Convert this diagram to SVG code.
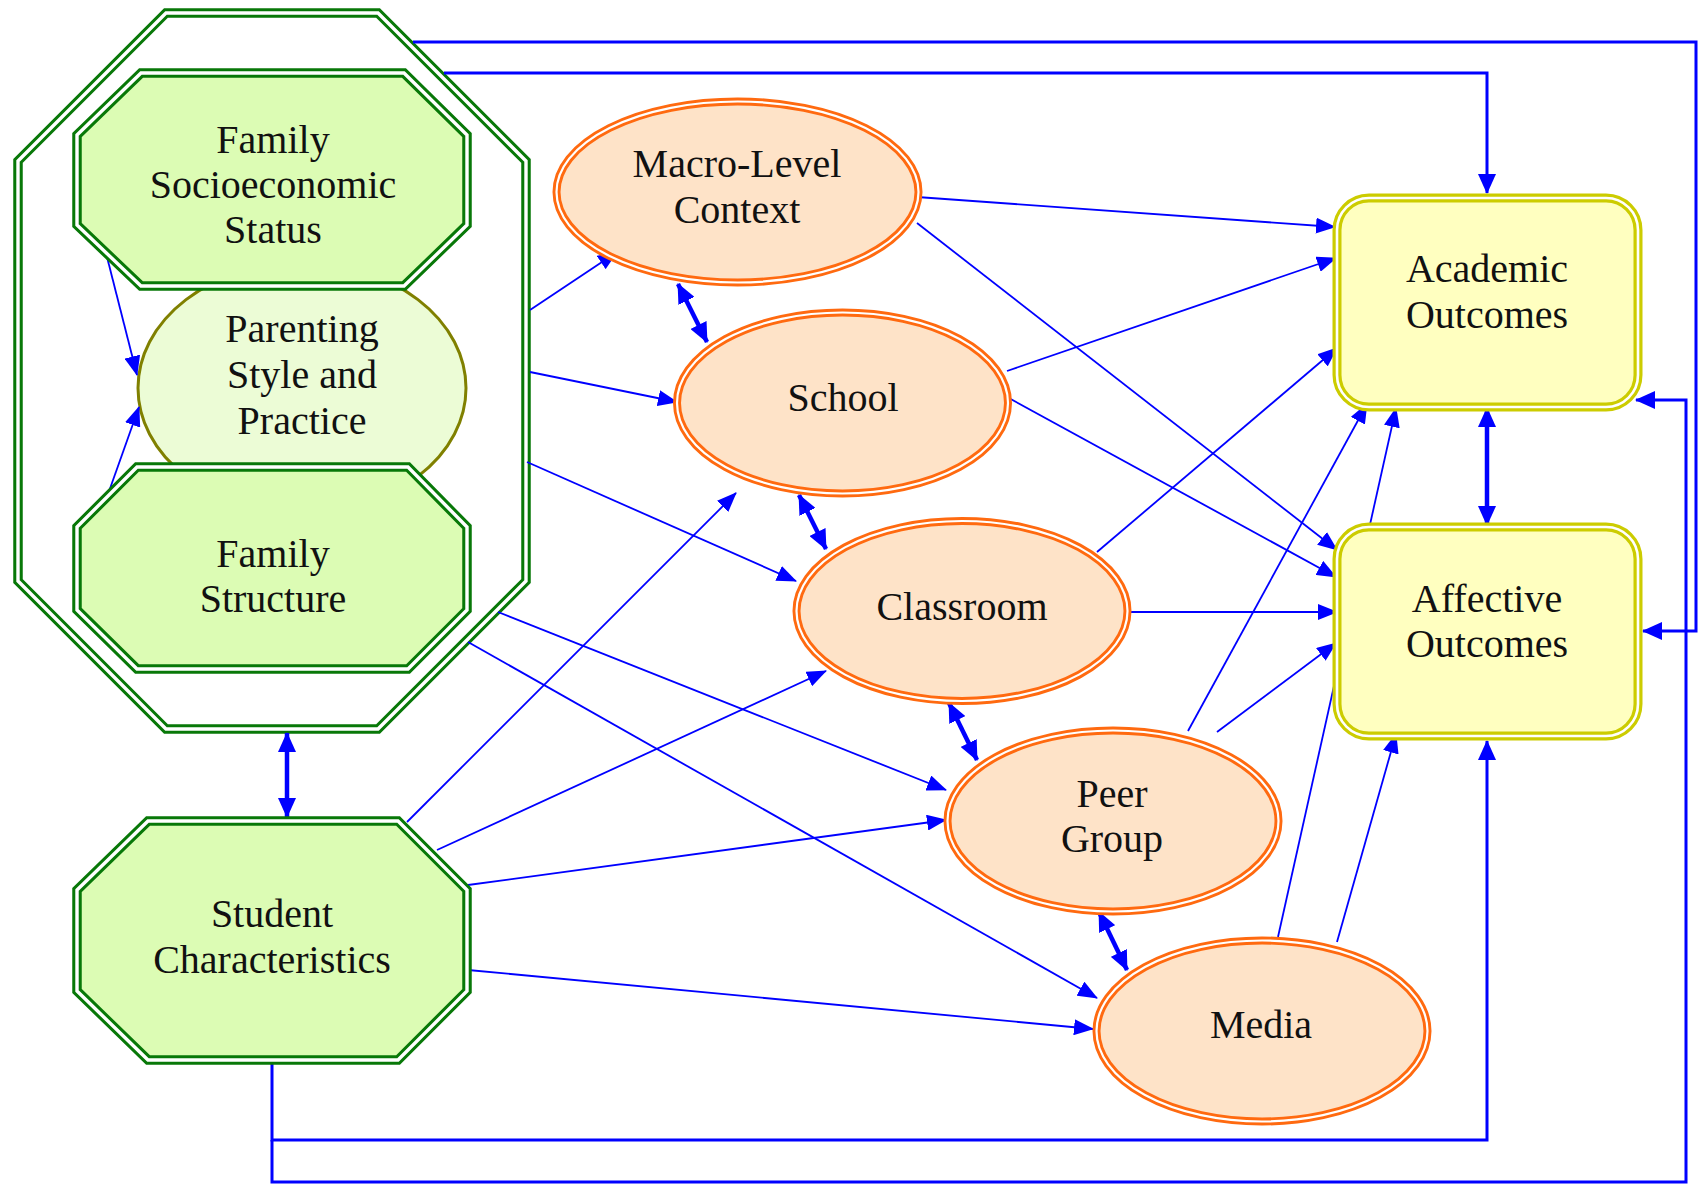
<svg xmlns="http://www.w3.org/2000/svg" width="1698" height="1184" viewBox="0 0 1698 1184">
<style>
.t{font-family:"Liberation Serif","Times New Roman",serif;font-size:40px;fill:#111;text-anchor:middle}
.gOut{fill:#dcfcb4;stroke:#087808;stroke-width:9.5;stroke-linejoin:miter}
.gIn{fill:none;stroke:#ffffff;stroke-width:3.4;stroke-linejoin:miter}
.oOut{fill:#fee3c8;stroke:#ff6a10;stroke-width:8}
.oIn{fill:none;stroke:#ffffff;stroke-width:2.2}
.yOut{fill:#ffffc0;stroke:#cccc00;stroke-width:9}
.yIn{fill:none;stroke:#ffffff;stroke-width:2.6}
.e{fill:none;stroke:#0000ff;stroke-width:1.8;marker-end:url(#a)}
.b{fill:none;stroke:#0000ff;stroke-width:4.5;marker-end:url(#ab);marker-start:url(#abs)}
.o{fill:none;stroke:#0000ff;stroke-width:3;marker-end:url(#ao)}
</style>
<defs>
<marker id="a" markerUnits="userSpaceOnUse" viewBox="0 0 20 16" markerWidth="20" markerHeight="16" refX="19" refY="8" orient="auto"><path d="M0,0 L20,8 L0,16 z" fill="#0000ff"/></marker>
<marker id="ao" markerUnits="userSpaceOnUse" viewBox="0 0 20 18" markerWidth="20" markerHeight="18" refX="19" refY="9" orient="auto"><path d="M0,0 L20,9 L0,18 z" fill="#0000ff"/></marker>
<marker id="ab" markerUnits="userSpaceOnUse" viewBox="0 0 20 18" markerWidth="20" markerHeight="18" refX="19" refY="9" orient="auto"><path d="M0,0 L20,9 L0,18 z" fill="#0000ff"/></marker>
<marker id="abs" markerUnits="userSpaceOnUse" viewBox="0 0 20 18" markerWidth="20" markerHeight="18" refX="19" refY="9" orient="auto-start-reverse"><path d="M0,0 L20,9 L0,18 z" fill="#0000ff"/></marker>
</defs>
<rect width="1698" height="1184" fill="#ffffff"/>

<g id="family-cluster">
<polygon points="166,13 378,13 526,161 526,581 378,729 166,729 18,581 18,161" fill="none" stroke="#087808" stroke-width="9.5"/>
<polygon points="166,13 378,13 526,161 526,581 378,729 166,729 18,581 18,161" fill="none" stroke="#ffffff" stroke-width="3.4"/>
</g>

<g id="parenting">
<ellipse cx="302" cy="388" rx="164" ry="125" fill="#ecfcd6" stroke="#808000" stroke-width="3"/>
<text class="t" x="302" y="342">Parenting</text>
<text class="t" x="302" y="388">Style and</text>
<text class="t" x="302" y="434">Practice</text>
</g>

<g id="connectors">
<path class="e" d="M530,310 L617,252"/>
<path class="e" d="M530,372 L677,402"/>
<path class="e" d="M527,462 L796,581"/>
<path class="e" d="M498,612 L946,790"/>
<path class="e" d="M468,642 L1097,998"/>
<path class="e" d="M407,822 L736,493"/>
<path class="e" d="M437,850 L826,671"/>
<path class="e" d="M468,885 L946,820"/>
<path class="e" d="M468,970 L1093,1029"/>
<path class="e" d="M107,257 L137,375"/>
<path class="e" d="M107,497 L139,407"/>
<path class="e" d="M917,197 L1335,227"/>
<path class="e" d="M917,223 L1337,550"/>
<path class="e" d="M1007,371 L1336,258"/>
<path class="e" d="M1007,397 L1336,577"/>
<path class="e" d="M1097,552 L1337,348"/>
<path class="e" d="M1129,612 L1337,612"/>
<path class="e" d="M1188,731 L1367,404"/>
<path class="e" d="M1217,732 L1336,643"/>
<path class="e" d="M1278,937 L1396,408"/>
<path class="e" d="M1337,942 L1396,734"/>
<path class="b" d="M678,284 L707,342"/>
<path class="b" d="M799,495 L826,549"/>
<path class="b" d="M949,703 L977,760"/>
<path class="b" d="M1099,912 L1127,970"/>
<path class="b" d="M1487,408 L1487,525"/>
<path class="b" d="M287,733 L287,817"/>
<path class="o" d="M444,73 H1487 V193"/>
<path class="o" d="M413,42 H1696 V631 H1643"/>
<path class="o" d="M272,1064 V1140 H1487 V741"/>
<path class="o" d="M272,1140 V1182 H1686 V400 H1636"/>
</g>

<g id="ses">
<polygon class="gOut" points="141,73 404,73 467,135 467,225 404,286 141,286 77,225 77,135"/>
<polygon class="gIn" points="141,73 404,73 467,135 467,225 404,286 141,286 77,225 77,135"/>
<text class="t" x="273" y="153">Family</text>
<text class="t" x="273" y="198">Socioeconomic</text>
<text class="t" x="273" y="243">Status</text>
</g>

<g id="family-structure">
<polygon class="gOut" points="137,467 408,467 467,527 467,610 408,669 137,669 77,610 77,527"/>
<polygon class="gIn" points="137,467 408,467 467,527 467,610 408,669 137,669 77,610 77,527"/>
<text class="t" x="273" y="567">Family</text>
<text class="t" x="273" y="612">Structure</text>
</g>

<g id="student">
<polygon class="gOut" points="148,821 398,821 467,890 467,991 398,1060 148,1060 77,991 77,890"/>
<polygon class="gIn" points="148,821 398,821 467,890 467,991 398,1060 148,1060 77,991 77,890"/>
<text class="t" x="272" y="927">Student</text>
<text class="t" x="272" y="973">Characteristics</text>
</g>

<g id="macro">
<ellipse class="oOut" cx="737.5" cy="192" rx="181" ry="90.5"/>
<ellipse class="oIn" cx="737.5" cy="192" rx="181" ry="90.5"/>
<text class="t" x="737" y="177">Macro-Level</text>
<text class="t" x="737" y="223">Context</text>
</g>

<g id="school">
<ellipse class="oOut" cx="842.5" cy="403" rx="165.5" ry="90.5"/>
<ellipse class="oIn" cx="842.5" cy="403" rx="165.5" ry="90.5"/>
<text class="t" x="843" y="411">School</text>
</g>

<g id="classroom">
<ellipse class="oOut" cx="962" cy="611" rx="165.5" ry="90"/>
<ellipse class="oIn" cx="962" cy="611" rx="165.5" ry="90"/>
<text class="t" x="962" y="620">Classroom</text>
</g>

<g id="peer">
<ellipse class="oOut" cx="1113" cy="821" rx="165.5" ry="90.5"/>
<ellipse class="oIn" cx="1113" cy="821" rx="165.5" ry="90.5"/>
<text class="t" x="1112" y="807">Peer</text>
<text class="t" x="1112" y="852">Group</text>
</g>

<g id="media">
<ellipse class="oOut" cx="1262" cy="1031" rx="165.5" ry="90.5"/>
<ellipse class="oIn" cx="1262" cy="1031" rx="165.5" ry="90.5"/>
<text class="t" x="1261" y="1038">Media</text>
</g>

<g id="academic">
<rect class="yOut" x="1337" y="198" width="301" height="209" rx="32" ry="32"/>
<rect class="yIn" x="1337" y="198" width="301" height="209" rx="32" ry="32"/>
<text class="t" x="1487" y="282">Academic</text>
<text class="t" x="1487" y="328">Outcomes</text>
</g>

<g id="affective">
<rect class="yOut" x="1337" y="527" width="301" height="209" rx="32" ry="32"/>
<rect class="yIn" x="1337" y="527" width="301" height="209" rx="32" ry="32"/>
<text class="t" x="1487" y="612">Affective</text>
<text class="t" x="1487" y="657">Outcomes</text>
</g>
</svg>
